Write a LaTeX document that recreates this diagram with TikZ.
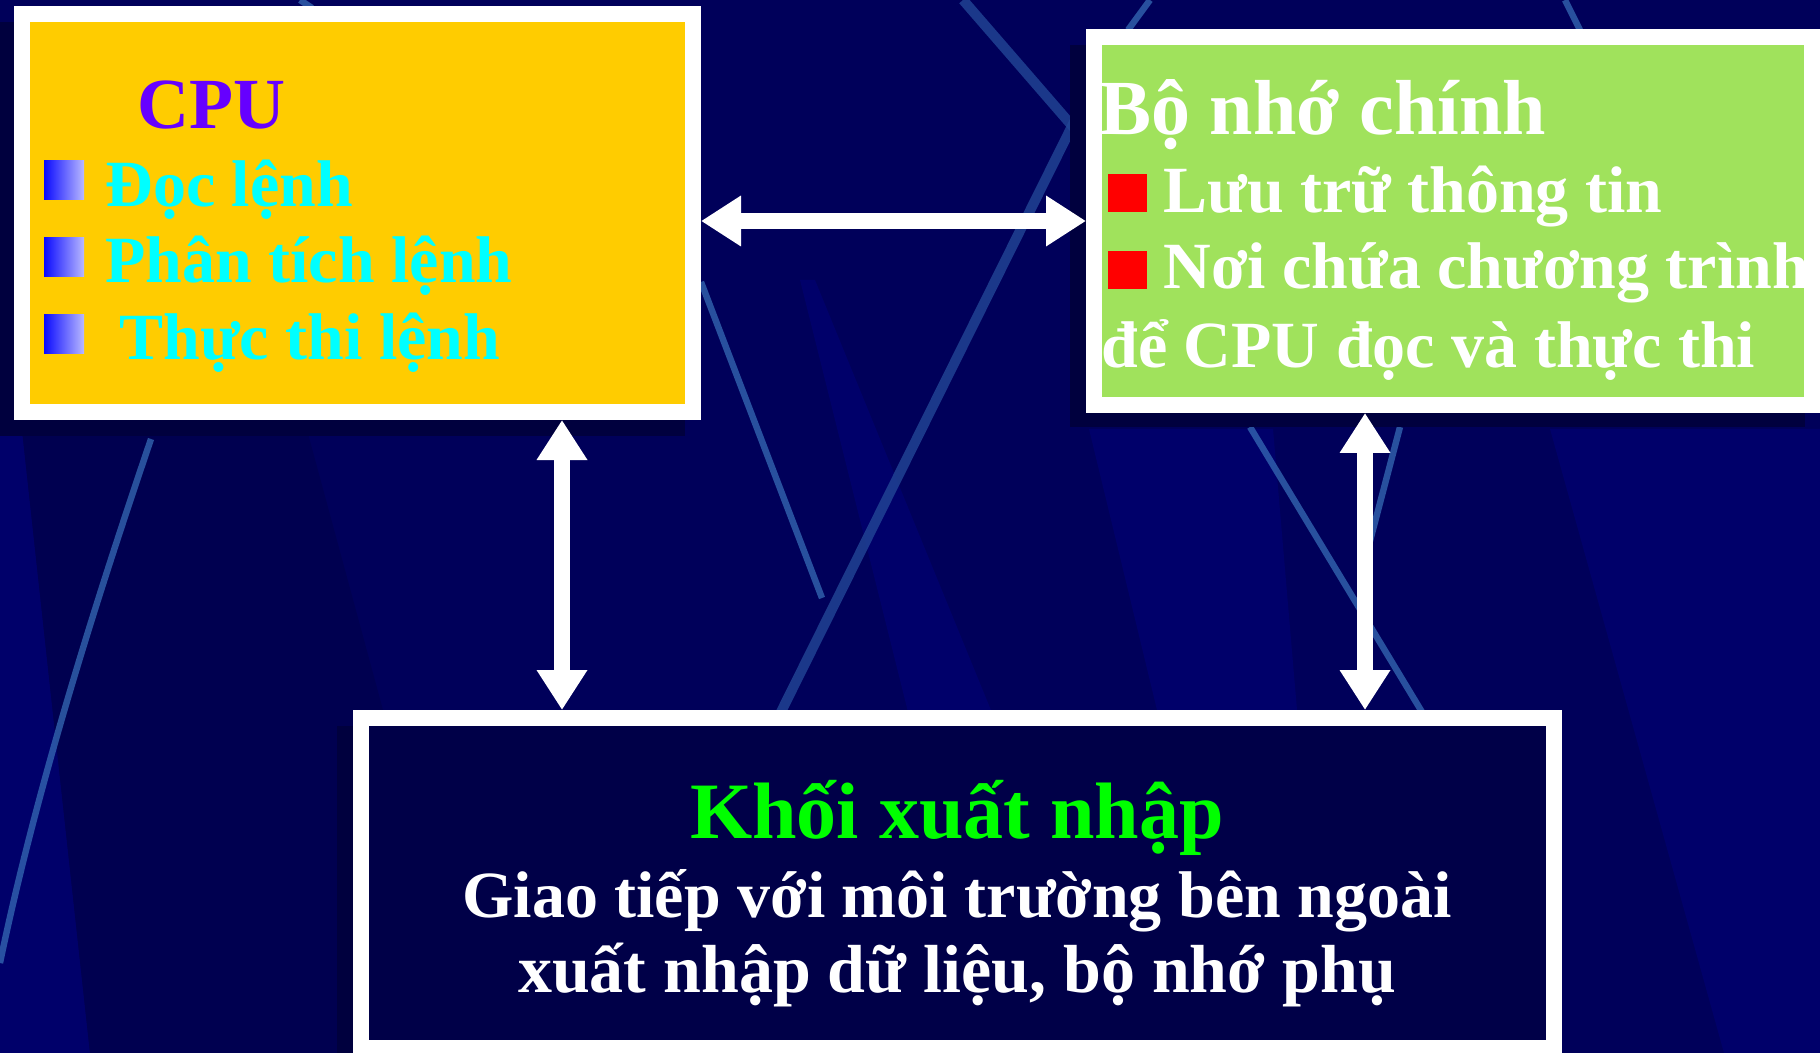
\documentclass[tikz,border=0pt]{standalone}
\usepackage{fontspec}
\setmainfont{Liberation Serif}
\usetikzlibrary{arrows.meta,fit}
\definecolor{bgnavy}{RGB}{0,0,90}
\definecolor{bglight}{RGB}{0,0,106}
\definecolor{bgdark}{RGB}{0,0,80}
\definecolor{shadownavy}{RGB}{0,0,62}
\definecolor{ioinner}{RGB}{0,0,72}
\definecolor{streakA}{RGB}{50,100,176}
\definecolor{streakB}{RGB}{34,70,150}
\definecolor{cpuyellow}{RGB}{255,204,0}
\definecolor{memgreen}{RGB}{160,226,92}
\definecolor{cputitle}{RGB}{102,0,255}
\definecolor{cyantext}{RGB}{0,255,255}
\definecolor{iotitle}{RGB}{0,255,0}
\definecolor{bulA}{RGB}{10,10,255}
\definecolor{bulB}{RGB}{185,185,255}
\definecolor{redsqc}{RGB}{255,0,0}
\newcommand\bodyfnt{\fontsize{33}{40}\selectfont\bfseries}
\newcommand\titlefnt{\fontsize{36}{43}\selectfont\bfseries}
\newcommand\memfnt{\fontsize{39}{46}\selectfont\bfseries}
\newcommand\iofnt{\fontsize{40}{47}\selectfont\bfseries}
\begin{document}
\begin{tikzpicture}[x=0.5pt,y=-0.5pt,
  box/.style={draw=white, line width=8pt, inner sep=0pt},
  dbl/.style={draw=white, line width=8pt,
    arrows={Triangle[width=24pt,length=20pt]-Triangle[width=24pt,length=20pt]}},
  txt/.style={anchor=base west, inner sep=0pt, font=\bodyfnt},
  ctxt/.style={anchor=base, inner sep=0pt, font=\bodyfnt, text=white},
  bulletsq/.style={minimum width=20pt, minimum height=19.5pt, inner sep=0pt,
    left color=bulA, right color=bulB},
  redsq/.style={fill=redsqc, minimum width=19.5pt, minimum height=19pt, inner sep=0pt},
  streak/.style={draw=streakA, line width=3.2pt, opacity=0.8},
  streakw/.style={draw=streakB, line width=5pt, opacity=0.8}]
\useasboundingbox (0,0) rectangle (1820,1053);
\clip (0,0) rectangle (1820,1053);
% background
\fill[bgnavy] (0,0) rectangle (1820,1053);
\fill[bglight] (0,430) -- (22,430) -- (90,1053) -- (0,1053) -- cycle;
\fill[bgdark] (22,430) -- (307,430) -- (383,710) -- (383,1053) -- (90,1053) -- cycle;
\fill[bglight] (800,280) -- (815,280) -- (995,720) -- (910,720) -- cycle;
\fill[bglight] (1089,429) -- (1273,429) -- (1297,710) -- (1157,710) -- cycle;
\fill[bglight] (1550,429) -- (1820,429) -- (1820,1053) -- (1724,1053) -- cycle;
% streaks
\draw[streak] (151,439) .. controls (110,560) and (40,770) .. (0,963);
\draw[streak] (701,282) -- (822,598);
\draw[streakw] (777,720) -- (1080,110);
\draw[streakw] (963,0) -- (1080,135);
\draw[streak] (1250,427) -- (1422,712);
\draw[streak] (1400,427) -- (1365,560);
\draw[streak] (1150,0) -- (1128,30);
\draw[streak] (1565,0) -- (1580,30);
\draw[streak] (300,0) -- (312,8);
% shadows
\fill[shadownavy] (-2,22) rectangle (685,436);
\fill[shadownavy] (1070,45) rectangle (1805,427);
\fill[shadownavy] (337,726) rectangle (1546,1060);
% boxes
\node[box, fill=cpuyellow, fit={(22,14) (693,412)}] (cpu) {};
\node[box, fill=memgreen, fit={(1094,37) (1812,405)}] (mem) {};
\node[box, fill=ioinner, fit={(361,718) (1554,1048)}] (io) {};
% arrows
\coordinate (hy) at (0,221);
\coordinate (vl) at (562,0);
\coordinate (vr) at (1365,0);
\draw[dbl] (cpu.east |- hy) -- (mem.west |- hy);
\draw[dbl] (cpu.south -| vl) -- (io.north -| vl);
\draw[dbl] (mem.south -| vr) -- (io.north -| vr);
% CPU texts
\node[txt, font=\titlefnt, text=cputitle] (cpuT) at (137,129) {CPU};
\node[bulletsq] (b1) at (64,180.5) {};
\node[bulletsq] (b2) at (64,257.5) {};
\node[bulletsq] (b3) at (64,334.5) {};
\node[txt, text=cyantext] (c1) at (105,207) {Đọc lệnh};
\node[txt, text=cyantext] (c2) at (105,283) {Phân tích lệnh};
\node[txt, text=cyantext] (c3) at (119,360) {Thực thi lệnh};
% memory texts
\node[txt, font=\memfnt, text=white] (memT) at (1099,135) {Bộ nhớ chính};
\node[redsq] (r1) at (1127.5,193) {};
\node[redsq] (r2) at (1127.5,270) {};
\node[txt, text=white] (m1) at (1163,213) {Lưu trữ thông tin};
\node[txt, text=white] (m2) at (1163,289) {Nơi chứa chương trình};
\node[txt, text=white] (m3) at (1101,368) {để CPU đọc và thực thi};
% io texts
\node[ctxt, font=\iofnt, text=iotitle] (ioT) at (957,838) {Khối xuất nhập};
\node[ctxt] (io1) at (957,917) {Giao tiếp với môi trường bên ngoài};
\node[ctxt, font=\fontsize{34}{40}\selectfont\bfseries] (io2) at (957,992) {xuất nhập dữ liệu, bộ nhớ phụ};
\end{tikzpicture}
\end{document}
